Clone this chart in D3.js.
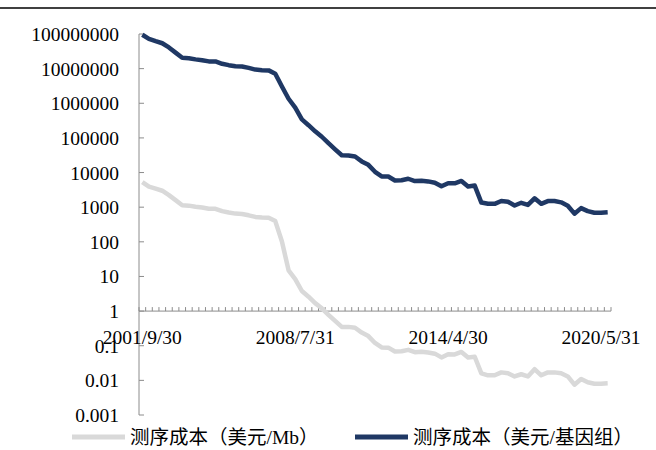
<!DOCTYPE html>
<html>
<head>
<meta charset="utf-8">
<script src="https://cdn.jsdelivr.net/npm/d3@7"></script>
<style>
  body { margin: 0; background: #fff; }
</style>
</head>
<body>
<div id="container"></div>
<script>
// dates (category axis, one per data point)
const dates = [
  "2001/9/30","2002/3/31","2002/9/30","2003/3/31","2003/10/31","2004/1/31","2004/4/30","2004/7/31",
  "2004/10/31","2005/1/31","2005/4/30","2005/7/31","2005/10/31","2006/1/31","2006/4/30","2006/7/31",
  "2006/10/31","2007/1/31","2007/4/30","2007/7/31","2007/10/31","2008/1/31","2008/4/30","2008/7/31",
  "2008/10/31","2009/1/31","2009/4/30","2009/7/31","2009/10/31","2010/1/31","2010/4/30","2010/7/31",
  "2010/10/31","2011/1/31","2011/4/30","2011/7/31","2011/10/31","2012/1/31","2012/4/30","2012/7/31",
  "2012/10/31","2013/1/31","2013/4/30","2013/7/31","2013/10/31","2014/1/31","2014/4/30","2014/7/31",
  "2014/10/31","2015/1/31","2015/4/30","2015/7/31","2015/10/31","2016/1/31","2016/4/30","2016/7/31",
  "2016/10/31","2017/1/31","2017/4/30","2017/7/31","2017/10/31","2018/1/31","2018/4/30","2018/8/31",
  "2019/1/31","2019/5/31","2019/8/31","2019/11/30","2020/2/29","2020/5/31","2020/8/31"
];

// 测序成本（美元/Mb）
const costPerMb = [
  5292, 3899, 3414, 2986, 2231, 1599, 1136, 1107,
  1029, 974, 898, 899, 767, 699, 652, 636,
  582, 523, 503, 496, 397, 102, 15.0, 8.4,
  3.8, 2.6, 1.7, 1.2, 0.78, 0.52, 0.35, 0.35,
  0.33, 0.24, 0.19, 0.12, 0.089, 0.088, 0.068, 0.069,
  0.076, 0.065, 0.067, 0.064, 0.059, 0.046, 0.057, 0.056,
  0.066, 0.046, 0.048, 0.016, 0.014, 0.014, 0.017, 0.016,
  0.013, 0.015, 0.013, 0.021, 0.014, 0.017, 0.017, 0.016,
  0.013, 0.0075, 0.011, 0.0088, 0.0080, 0.0080, 0.0082
];

// 测序成本（美元/基因组）
const costPerGenome = [
  95000000, 72000000, 62000000, 54000000, 41000000, 29000000, 20500000, 20000000,
  18500000, 17500000, 16200000, 16200000, 13800000, 12600000, 11700000, 11500000,
  10500000, 9400000, 9050000, 8900000, 7150000, 3060000, 1350000, 752000,
  342000, 233000, 155000, 108000, 70300, 46800, 31500, 31100,
  29100, 21000, 16700, 10500, 7740, 7670, 5900, 5990,
  6620, 5670, 5830, 5550, 5100, 4010, 4920, 4900,
  5730, 3970, 4210, 1360, 1250, 1250, 1510, 1440,
  1120, 1340, 1160, 1800, 1250, 1500, 1500, 1380,
  1100, 650, 940, 770, 690, 690, 710
];

const yTicks = [1e8, 1e7, 1e6, 1e5, 1e4, 1e3, 100, 10, 1, 0.1, 0.01, 0.001];
const xLabels = ["2001/9/30", "2008/7/31", "2014/4/30", "2020/5/31"];
const seriesNames = ["测序成本（美元/Mb）", "测序成本（美元/基因组）"];

document.addEventListener("DOMContentLoaded", function() {
  const width = 656, height = 450;
  const left = 139, right = 611, top = 34, bottom = 415;
  const font = "'Liberation Serif', 'Times New Roman', 'Noto Sans CJK SC', serif";
  const axisColor = "#8c8c8c";
  const gray = "#d9d9d9", navy = "#1f3864";

  const svg = d3.create("svg")
      .attr("width", width)
      .attr("height", height)
      .attr("viewBox", [0, 0, width, height])
      .attr("font-family", font)
      .style("background", "#fff");

  // rule across the top of the figure
  svg.append("line")
      .attr("x1", 0).attr("x2", width)
      .attr("y1", 8).attr("y2", 8)
      .attr("stroke", "#000").attr("stroke-width", 1.5);

  const x = d3.scaleBand().domain(dates).range([left, right]).paddingInner(0).paddingOuter(0);
  const y = d3.scaleLog().domain([0.001, 1e8]).range([bottom, top]);
  const cx = d => x(d) + x.bandwidth() / 2;

  // y axis
  svg.append("line")
      .attr("x1", left).attr("x2", left)
      .attr("y1", top).attr("y2", bottom)
      .attr("stroke", axisColor).attr("stroke-width", 1);

  svg.append("g")
    .selectAll("line")
    .data(yTicks)
    .join("line")
      .attr("x1", left).attr("x2", left + 5)
      .attr("y1", d => y(d)).attr("y2", d => y(d))
      .attr("stroke", axisColor);

  svg.append("g")
      .attr("font-size", 19.5)
      .attr("text-anchor", "end")
      .attr("fill", "#000")
    .selectAll("text")
    .data(yTicks)
    .join("text")
      .attr("x", 119)
      .attr("y", d => y(d))
      .attr("dy", "0.36em")
      .text(d => d3.format("~f")(d));

  // x axis sits on y = 1
  const y1 = y(1);
  svg.append("line")
      .attr("x1", left).attr("x2", right)
      .attr("y1", y1).attr("y2", y1)
      .attr("stroke", axisColor);

  const edges = dates.map(d => x(d)).concat([right]);
  svg.append("g")
    .selectAll("line")
    .data(edges)
    .join("line")
      .attr("x1", d => d).attr("x2", d => d)
      .attr("y1", y1).attr("y2", y1 - 4)
      .attr("stroke", axisColor);

  svg.append("g")
      .attr("font-size", 19.5)
      .attr("text-anchor", "middle")
    .selectAll("text")
    .data(xLabels)
    .join("text")
      .attr("x", d => cx(d))
      .attr("y", y1 + 33)
      .text(d => d);

  // lines
  const line = d3.line()
      .x((d, i) => cx(dates[i]))
      .y(d => y(d));

  svg.append("path")
      .datum(costPerMb)
      .attr("fill", "none")
      .attr("stroke", gray)
      .attr("stroke-width", 4.5)
      .attr("stroke-linejoin", "round")
      .attr("d", line);

  svg.append("path")
      .datum(costPerGenome)
      .attr("fill", "none")
      .attr("stroke", navy)
      .attr("stroke-width", 4.5)
      .attr("stroke-linejoin", "round")
      .attr("d", line);

  // legend
  const legend = svg.append("g").attr("font-size", 19.5);
  const items = [
    {name: seriesNames[0], color: gray, x: 72},
    {name: seriesNames[1], color: navy, x: 355}
  ];
  items.forEach(it => {
    legend.append("line")
        .attr("x1", it.x).attr("x2", it.x + 53)
        .attr("y1", 437).attr("y2", 437)
        .attr("stroke", it.color)
        .attr("stroke-width", 5);
    legend.append("text")
        .attr("x", it.x + 58)
        .attr("y", 444)
        .text(it.name);
  });

  document.getElementById("container").append(svg.node());
});
</script>
</body>
</html>
